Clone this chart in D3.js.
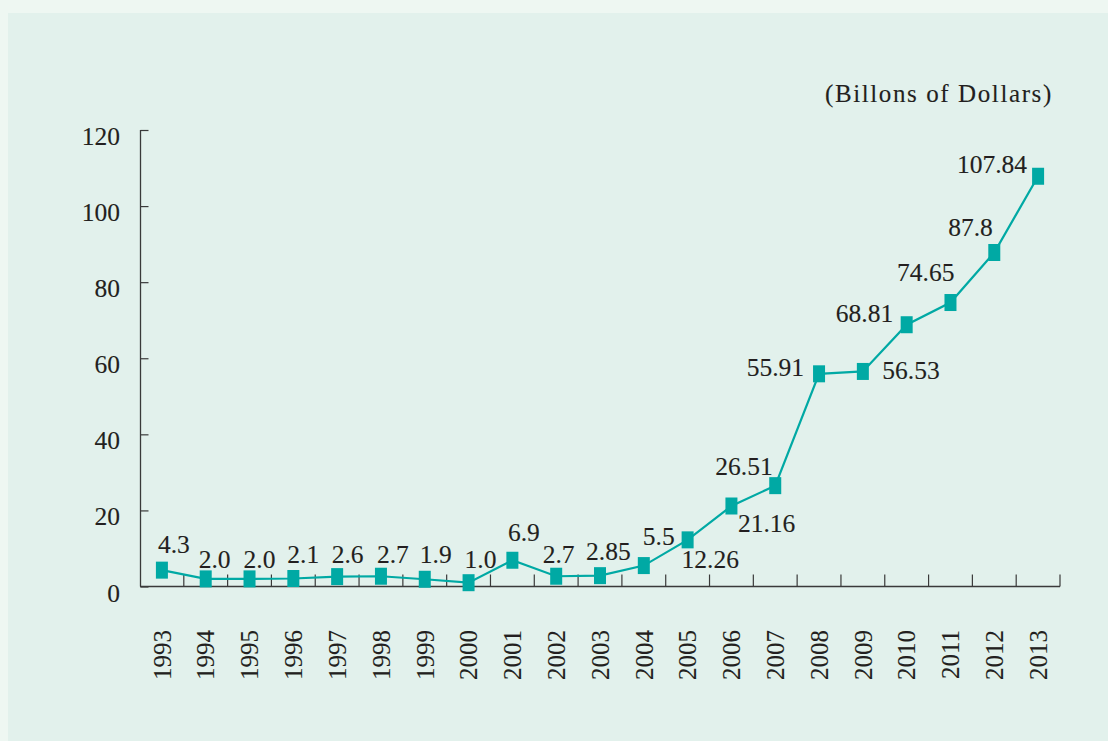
<!DOCTYPE html>
<html>
<head>
<meta charset="utf-8">
<script src="https://cdn.jsdelivr.net/npm/d3@7/dist/d3.min.js"></script>
<style>
  html, body { margin: 0; padding: 0; background: #eef7f2; }
  svg { display: block; }
  text { font-family: "Liberation Serif", "Times New Roman", serif; fill: #231f20; stroke: #231f20; stroke-width: 0.12px; }
</style>
</head>
<body>
<script>
// ---- Data ----
const years = ["1993","1994","1995","1996","1997","1998","1999","2000","2001","2002","2003",
               "2004","2005","2006","2007","2008","2009","2010","2011","2012","2013"];
const values = [4.3, 2.0, 2.0, 2.1, 2.6, 2.7, 1.9, 1.0, 6.9, 2.7, 2.85,
                5.5, 12.26, 21.16, 26.51, 55.91, 56.53, 68.81, 74.65, 87.8, 107.84];
const valueLabels = ["4.3","2.0","2.0","2.1","2.6","2.7","1.9","1.0","6.9","2.7","2.85",
                     "5.5","12.26","21.16","26.51","55.91","56.53","68.81","74.65","87.8","107.84"];
const yTicks = [0, 20, 40, 60, 80, 100, 120];
const unitLabel = "(Billons of Dollars)";

// ---- Layout ----
const W = 1108, H = 741;
const teal = "#00a9a4";
const axisColor = "#3a3a3a";

const svg = d3.select("body").append("svg").attr("width", W).attr("height", H);
svg.append("rect").attr("width", W).attr("height", H).attr("fill", "#eef7f2");
svg.append("rect").attr("x", 8).attr("y", 13).attr("width", W - 8).attr("height", H - 13).attr("fill", "#e2f1ec");

const x = d3.scaleBand().domain(years).range([140, 1060]).paddingInner(0).paddingOuter(0);
const y = d3.scaleLinear().domain([0, 120]).range([586.5, 130]);

// Y axis
const yAxis = d3.axisRight(y).tickValues(yTicks).tickSize(8).tickFormat("");
const gy = svg.append("g").attr("transform", "translate(140.5,0)").call(yAxis);
gy.select(".domain").attr("stroke", axisColor).attr("stroke-width", 1.3).attr("d", `M0,${y(120)}V${y(0)}`);
gy.selectAll(".tick line").attr("stroke", axisColor).attr("stroke-width", 1.2);

svg.append("g").selectAll("text").data(yTicks).join("text")
  .attr("x", 120).attr("y", d => y(d) + 15)
  .attr("text-anchor", "end").attr("font-size", 25.5)
  .text(d => d);

// X axis line & boundary ticks
svg.append("line").attr("x1", 140).attr("x2", 1060).attr("y1", 586.5).attr("y2", 586.5)
  .attr("stroke", axisColor).attr("stroke-width", 1.3);
const bounds = years.slice(1).map(d => x(d)).concat([x.range()[1]]);
svg.append("g").selectAll("line").data(bounds).join("line")
  .attr("x1", d => d).attr("x2", d => d).attr("y1", 586.5).attr("y2", 574.5)
  .attr("stroke", axisColor).attr("stroke-width", 1.2);

// Year labels
svg.append("g").selectAll("text").data(years).join("text")
  .attr("transform", d => `translate(${x(d) + x.bandwidth() / 2},630) rotate(-90)`)
  .attr("text-anchor", "end").attr("dy", "0.35em").attr("font-size", 25)
  .text(d => d);

// Line
const pts = years.map((d, i) => ({ year: d, v: values[i], label: valueLabels[i] }));
const cx = d => x(d.year) + x.bandwidth() / 2;
svg.append("path").datum(pts)
  .attr("d", d3.line().x(cx).y(d => y(d.v)))
  .attr("fill", "none").attr("stroke", teal).attr("stroke-width", 2.2);

// Markers (12 x 17 rectangles)
svg.append("g").selectAll("rect").data(pts).join("rect")
  .attr("x", d => cx(d) - 6).attr("y", d => y(d.v) - 8.5)
  .attr("width", 12).attr("height", 17).attr("fill", teal);

// Value label placement: [anchor, dx, dy] relative to the point
const labelPlace = [
  ["start",-4,-17],["start",-7,-11],["start",-6,-11],["start",-6,-15.5],["start",-5.5,-13.6],
  ["start",-4,-13],["start",-5,-16],["start",-4,-14.7],["start",-4.5,-19],["start",-13.5,-13],
  ["start",-14,-15.7],["start",-1,-20.6],["start",-6,28],["start",6.5,26],["end",-2.5,-11],
  ["end",-15,2],["start",19.5,8],["end",-13.5,-3],["end",4,-22],["end",-1.5,-16],["end",-11,-3.7]
];
svg.append("g").selectAll("text").data(pts).join("text")
  .attr("x", (d, i) => cx(d) + labelPlace[i][1])
  .attr("y", (d, i) => y(d.v) + labelPlace[i][2])
  .attr("text-anchor", (d, i) => labelPlace[i][0])
  .attr("font-size", 25.5)
  .text(d => d.label);

// Unit label
svg.append("text").attr("x", 825).attr("y", 102).attr("font-size", 25)
  .attr("letter-spacing", "1.6px").text(unitLabel);
</script>
</body>
</html>
